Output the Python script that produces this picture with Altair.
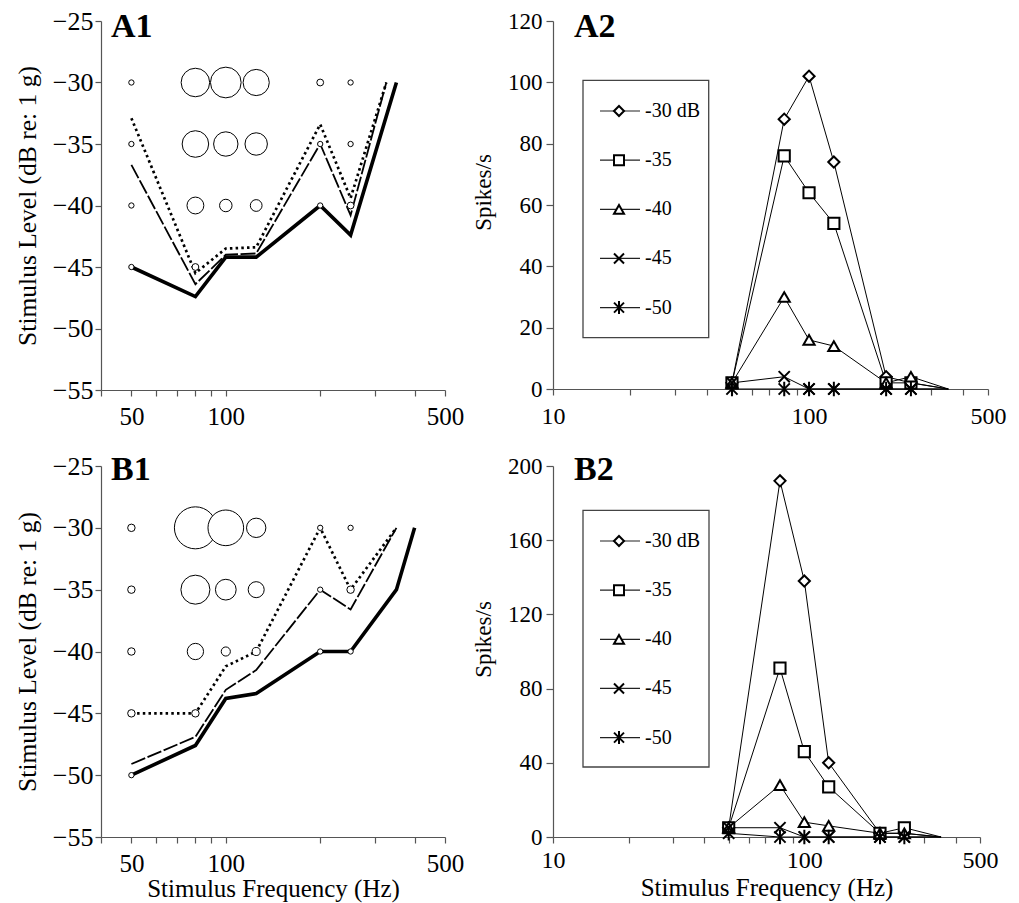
import altair as alt
import pandas as pd

FONT = "Liberation Serif"

# Stimulus frequencies (Hz) used for the rate curves
freqs = [50, 80, 100, 125, 200, 250, 350]
levels = ["-30", "-35", "-40", "-45", "-50"]
level_db = [-30, -35, -40, -45, -50]
legend_labels = ["-30 dB", "-35", "-40", "-45", "-50"]

# Unit A: firing rate (spikes/s) per stimulus level
a_rate_30 = [2, 88, 102, 74, 4, 2, 0]
a_rate_35 = [2, 76, 64, 54, 2, 2, 0]
a_rate_40 = [2, 30, 16, 14, 2, 4, 0]
a_rate_45 = [2, 4, 0, 0, 0, 0, 0]
a_rate_50 = [0, 0, 0, 0, 0, 0, 0]

# Unit B: firing rate (spikes/s) per stimulus level
b_rate_30 = [5, 192, 138, 40, 2, 2, 0]
b_rate_35 = [5, 91, 46, 27, 2, 5, 0]
b_rate_40 = [5, 28, 8, 6, 2, 2, 0]
b_rate_45 = [5, 5, 0, 0, 0, 0, 0]
b_rate_50 = [2, 0, 0, 0, 0, 0, 0]

# Unit A: threshold tuning curves (dB re: 1 g)
a_thr_solid_freq = [50, 80, 100, 125, 200, 250, 350]
a_thr_solid = [-45, -47.4, -44.2, -44.2, -40, -42.4, -30]
a_thr_other_freq = [50, 80, 100, 125, 200, 250, 325]
a_thr_dash = [-36.7, -46.4, -44.0, -43.9, -35, -40.8, -30]
a_thr_dot = [-32.9, -45.5, -43.5, -43.4, -33.4, -39.4, -30]

# Unit B: threshold tuning curves (dB re: 1 g)
b_thr_solid_freq = [50, 80, 100, 125, 200, 250, 350, 400]
b_thr_solid = [-50, -47.6, -43.8, -43.4, -40, -40, -35, -30]
b_thr_other_freq = [50, 80, 100, 125, 200, 250, 350]
b_thr_dash = [-49.1, -46.9, -43.1, -41.5, -35, -36.6, -30]
b_thr_dot = [-45, -45, -41.2, -40, -30, -35, -30]

X_PATH = "M-1,-1L1,1M-1,1L1,-1"
STAR_PATH = "M-1,-1L1,1M-1,1L1,-1M0,-1.3L0,1.3"
shapes = ["diamond", "square", "triangle-up", X_PATH, STAR_PATH]


def rate_frame(rate_lists):
    rows = []
    for lev, db, vals in zip(levels, level_db, rate_lists):
        for f, r in zip(freqs, vals):
            rows.append({"freq": f, "rate": r, "level": lev, "db": db})
    return pd.DataFrame(rows)


def label_mark(text, x, y):
    return alt.Chart(pd.DataFrame({"t": [text]})).mark_text(
        text=text, font=FONT, fontSize=34, fontWeight="bold",
        align="left", baseline="alphabetic", color="black"
    ).encode(x=alt.value(x), y=alt.value(y))


def threshold_panel(rate_lists, solid_f, solid, other_f, dash, dot,
                    max_rate, min_area, label, label_y, height, x_title):
    xs = alt.Scale(type="log", domain=[40, 500], nice=False)
    ys = alt.Scale(domain=[-55, -25], nice=False)
    x_axis = alt.Axis(
        values=[40, 50, 60, 70, 80, 90, 100, 200, 300, 400, 500],
        labelExpr="(datum.value == 50 || datum.value == 100 || datum.value == 500) ? format(datum.value, 'd') : ''",
        labelFontSize=25, labelPadding=8, labelOverlap=False, labelFlush=False,
        title=x_title, titleFontSize=25, titlePadding=0, tickSize=6,
    )
    y_axis = alt.Axis(
        values=[-55, -50, -45, -40, -35, -30, -25],
        labelFontSize=26, labelPadding=2, tickSize=6,
        title="Stimulus Level (dB re: 1 g)", titleFontSize=25.5, titlePadding=12,
    )

    def curve(fs, vals, **props):
        df = pd.DataFrame({"freq": fs, "db": vals})
        return alt.Chart(df).mark_line(color="black", **props).encode(
            x=alt.X("freq:Q", scale=xs, axis=x_axis),
            y=alt.Y("db:Q", scale=ys, axis=y_axis),
        )

    solid_line = curve(solid_f, solid, strokeWidth=3.6)
    dash_line = curve(other_f, dash, strokeWidth=1.8, strokeDash=[15, 2.5])
    dot_line = curve(other_f, dot, strokeWidth=2.7, strokeDash=[2.5, 3.2])

    rates = rate_frame(rate_lists)
    rates = rates[(rates["rate"] > 0) & (rates["freq"] < 350)]
    bubbles = alt.Chart(rates).mark_point(
        shape="circle", filled=True, fill="white", stroke="black",
        strokeWidth=1, opacity=1
    ).encode(
        x=alt.X("freq:Q", scale=xs, axis=x_axis),
        y=alt.Y("db:Q", scale=ys, axis=y_axis),
        size=alt.Size("rate:Q", scale=alt.Scale(domain=[0, max_rate], range=[min_area, 1764]), legend=None),
    )

    return alt.layer(
        dot_line, dash_line, solid_line, bubbles, label_mark(label, 10, label_y)
    ).properties(width=344, height=height)


def rate_panel(rate_lists, y_max, y_step, label, label_y, width, height,
               legend_box, legend_rows, x_title, x_label_pad, title_y):
    xs = alt.Scale(type="log", domain=[10, 500], nice=False)
    ys = alt.Scale(domain=[0, y_max], nice=False)
    x_axis = alt.Axis(
        values=[10, 20, 30, 40, 50, 60, 70, 80, 90, 100, 200, 300, 400, 500],
        labelExpr="(datum.value == 10 || datum.value == 100 || datum.value == 500) ? format(datum.value, 'd') : ''",
        labelFontSize=24, labelPadding=x_label_pad, labelOverlap=False, labelFlush=False,
        title=x_title, titleFontSize=25, titlePadding=3, tickSize=6,
    )
    y_axis = alt.Axis(
        values=list(range(0, y_max + 1, y_step)),
        labelFontSize=23, labelPadding=4, tickSize=7,
        title="Spikes/s", titleFontSize=23, titlePadding=12, titleY=title_y,
    )
    df = rate_frame(rate_lists)
    shape_enc = alt.Shape("level:N", scale=alt.Scale(domain=levels, range=shapes), legend=None)

    lines = alt.Chart(df).mark_line(color="black", strokeWidth=1).encode(
        x=alt.X("freq:Q", scale=xs, axis=x_axis),
        y=alt.Y("rate:Q", scale=ys, axis=y_axis),
        detail="level:N",
    )
    pts = alt.Chart(df[df["freq"] < 350]).mark_point(
        filled=True, fill="white", stroke="black", strokeWidth=2, opacity=1, size=125
    ).encode(
        x=alt.X("freq:Q", scale=xs, axis=x_axis),
        y=alt.Y("rate:Q", scale=ys, axis=y_axis),
        shape=shape_enc,
    )
    data_layer = alt.layer(lines, pts, label_mark(label, 21, label_y))

    # key box with line-and-symbol entries
    key_df = pd.DataFrame({"level": levels, "label": legend_labels, "slot": [0, 1, 2, 3, 4]})
    bx0, bx1, by0, by1 = legend_box
    key_y = alt.Y("slot:Q", scale=alt.Scale(domain=[0, 4], range=legend_rows), axis=None)
    box = alt.Chart(pd.DataFrame({"k": [0]})).mark_rect(
        fill="white", stroke="#444", strokeWidth=1.3
    ).encode(x=alt.value(bx0), x2=alt.value(bx1), y=alt.value(by0), y2=alt.value(by1))
    key_lines = alt.Chart(key_df).mark_rule(color="#222", strokeWidth=1.2).encode(
        x=alt.value(bx0 + 17), x2=alt.value(bx0 + 57), y=key_y
    )
    key_pts = alt.Chart(key_df).mark_point(
        filled=True, fill="white", stroke="black", strokeWidth=2, opacity=1, size=100
    ).encode(x=alt.value(bx0 + 36), y=key_y, shape=shape_enc)
    key_text = alt.Chart(key_df).mark_text(
        font=FONT, fontSize=20, align="left", baseline="middle", color="black"
    ).encode(x=alt.value(bx0 + 62), y=key_y, text="label:N")
    key_layer = alt.layer(box, key_lines, key_pts, key_text)

    return alt.layer(data_layer, key_layer).resolve_scale(y="independent").properties(
        width=width, height=height
    )


A1 = threshold_panel([a_rate_30, a_rate_35, a_rate_40, a_rate_45, a_rate_50],
                     a_thr_solid_freq, a_thr_solid, a_thr_other_freq, a_thr_dash, a_thr_dot,
                     102, 10, "A1", 16.3, 369, None)
B1 = threshold_panel([b_rate_30, b_rate_35, b_rate_40, b_rate_45, b_rate_50],
                     b_thr_solid_freq, b_thr_solid, b_thr_other_freq, b_thr_dash, b_thr_dot,
                     192, 5, "B1", 14.3, 371, "Stimulus Frequency (Hz)")
A2 = rate_panel([a_rate_30, a_rate_35, a_rate_40, a_rate_45, a_rate_50],
                120, 20, "A2", 16, 435, 368,
                (30, 155.7, 59.3, 316.6), [90, 286.6], None, 9, 171)
B2 = rate_panel([b_rate_30, b_rate_35, b_rate_40, b_rate_45, b_rate_50],
                200, 40, "B2", 14.3, 427, 371,
                (30, 156, 44.3, 301), [75, 271.6], "Stimulus Frequency (Hz)", 5, 173)

chart = alt.concat(
    A1, A2, B1, B2, columns=2, spacing={"row": 76, "column": 108}, bounds="flush"
).properties(
    padding={"left": 15, "top": 8, "right": 5, "bottom": 5},
    background="white",
).configure_view(stroke=None).configure_axis(
    labelFont=FONT, titleFont=FONT, labelColor="black", titleColor="black",
    titleFontWeight="normal", domainColor="#555", tickColor="#555",
    domainWidth=1.2, tickWidth=1.2, grid=False,
)

chart.save("out.html", embed_options={"renderer": "svg", "actions": False})
